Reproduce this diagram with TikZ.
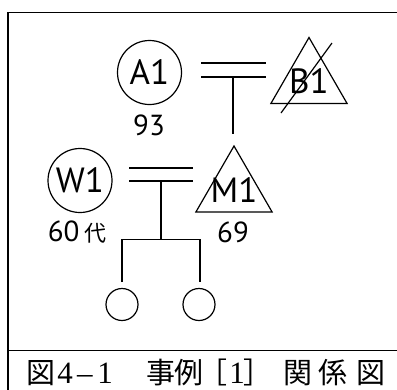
\documentclass[tikz,border=0pt]{standalone}
\usepackage{fontspec}
\setmainfont{Liberation Serif}
\newfontfamily\labfont{PT Sans}
\newfontfamily\cjkfont{Noto Sans CJK JP}
\usetikzlibrary{shapes.geometric}
\begin{document}
\begin{tikzpicture}[x=1pt,y=-1pt,
  person/.style={draw, line width=1.2pt, inner sep=0pt},
  fem/.style={person, circle, minimum size=64pt, font=\labfont\fontsize{35}{35}\selectfont},
  child/.style={person, circle, minimum size=32pt},
  tri/.style={person, regular polygon, regular polygon sides=3, minimum size=88pt},
  lab/.style={inner sep=0pt, font=\labfont\fontsize{35}{35}\selectfont},
  age/.style={inner sep=0pt, font=\labfont\fontsize{29}{29}\selectfont},
  link/.style={line width=1.5pt},
  frame/.style={line width=1.5pt},
  cj/.style={inner sep=0pt, anchor=base, font=\cjkfont\fontsize{29}{29}\selectfont},
  sr/.style={inner sep=0pt, anchor=base, font=\fontsize{31}{31}\selectfont}
]
\useasboundingbox (0,0) rectangle (397,389);
\fill[white] (0,0) rectangle (397,389);
% frame
\draw[frame] (8,400) -- (8,12.5) -- (400,12.5);
\draw[frame] (8,350.5) -- (400,350.5);
% persons
\node[fem] (A1) at (149.5,72.5) {A1};
\node[tri, label={[lab]center:B1}] (B1) at (309,81.5) {};
\draw[line width=1.2pt] (281,113) -- (332,43);
\node[age] (a93) at (149,125) {93};
\node[fem] (W1) at (80,180.5) {W1};
\node[age] (a60) at (77,232.5) {60\,{\cjkfont\fontsize{22}{22}\selectfont 代}};
\node[tri, label={[lab]center:M1}] (M1) at (234,190) {};
\node[age] (a69) at (233,232) {69};
\node[child] (C1) at (122,304.5) {};
\node[child] (C2) at (199,304.5) {};
% marriage A1 - B1
\coordinate (p1a) at (201,63); \coordinate (p1b) at (266,63);
\coordinate (p1c) at (201,77); \coordinate (p1d) at (266,77);
\coordinate (p1m) at (233,77); \coordinate (p1e) at (233,134);
\draw[link] (p1a) -- (p1b);
\draw[link] (p1c) -- (p1d);
\draw[link] (p1m) -- (p1e);
% marriage W1 - M1
\coordinate (p2a) at (129,168); \coordinate (p2b) at (193,168);
\coordinate (p2c) at (129,181); \coordinate (p2d) at (193,181);
\coordinate (p2m) at (161,181); \coordinate (p2s) at (161,239.5);
\coordinate (s1) at (122,239.5); \coordinate (s2) at (200,239.5);
\coordinate (d1) at (122,282); \coordinate (d2) at (200,282);
\draw[link] (p2a) -- (p2b);
\draw[link] (p2c) -- (p2d);
\draw[link] (p2m) -- (p2s);
\draw[link] (d1) -- (s1) -- (s2) -- (d2);
% caption
\node[cj] (k1) at (41,383) {図};
\node[sr] (n4) at (65,383) {4};
\node[sr] (nd) at (85,383) {–};
\node[sr] (n1) at (105,383) {1};
\node[cj] (k2) at (160.5,383) {事};
\node[cj] (k3) at (188.5,383) {例};
\node[cj, anchor=base west] (b1) at (198,383) {［};
\node[sr] (n1b) at (237,383) {1};
\node[cj, anchor=base west] (b2) at (243,383) {］};
\node[cj] (k4) at (297.5,383) {関};
\node[cj] (k5) at (333,383) {係};
\node[cj] (k6) at (370.5,383) {図};
\end{tikzpicture}
\end{document}
